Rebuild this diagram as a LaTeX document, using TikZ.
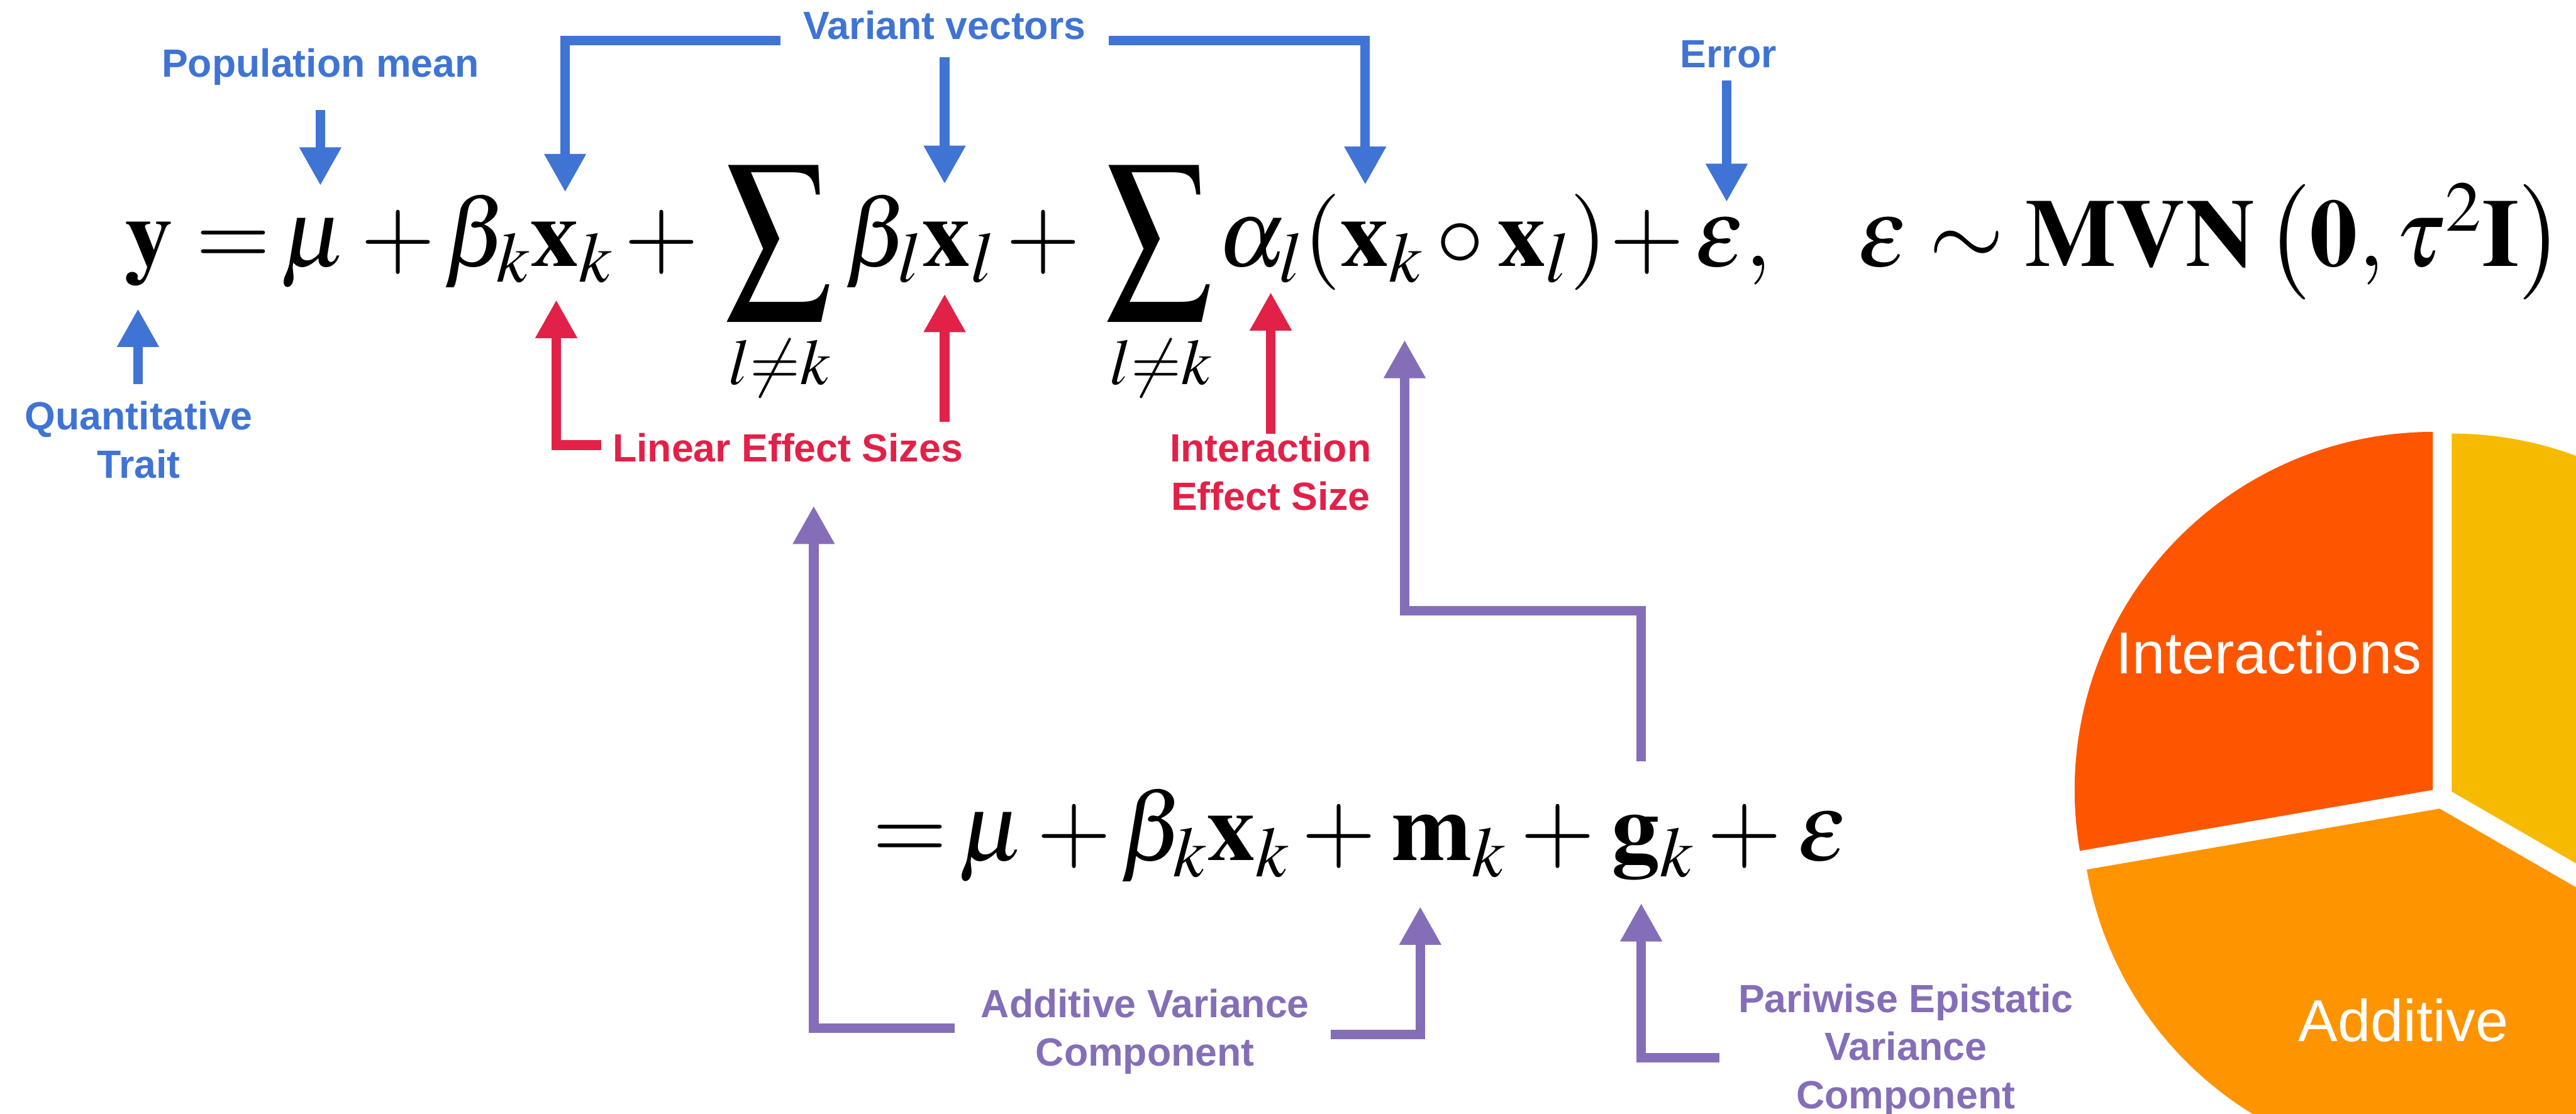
\documentclass[tikz,border=0pt]{standalone}
\usepackage{mathptmx}
\usepackage[no-math]{fontspec}
\setmainfont{Liberation Serif}
\newfontfamily\labfont{Liberation Sans}
\usetikzlibrary{arrows.meta}
\definecolor{cb}{RGB}{63,116,212}
\definecolor{cr}{RGB}{226,33,72}
\definecolor{cp}{RGB}{133,110,184}
\definecolor{pieR}{RGB}{254,86,0}
\definecolor{pieO}{RGB}{254,148,0}
\definecolor{pieY}{RGB}{246,187,0}
\newcommand\eqf{\fontsize{44}{52}\selectfont}
\newcommand\bigsum{\scalebox{0.84}[1]{$\displaystyle\sum$}}
\tikzset{
  eqs/.style={anchor=base, inner sep=0pt, font=\eqf},
  sigma/.style={anchor=center, inner sep=0pt, font=\fontsize{57}{64}\selectfont},
  limit/.style={anchor=base, inner sep=0pt, font=\fontsize{40}{48}\selectfont},
  lab/.style={anchor=base, inner sep=0pt, align=center, font=\fontsize{18}{22}\selectfont\labfont\bfseries},
  pielab/.style={anchor=base, inner sep=0pt, text=white, font=\fontsize{27}{32}\selectfont\labfont},
  arr/.style={line width=4.4pt, -{Triangle[width=18pt,length=17.5pt]}},
}
\begin{document}
\begin{tikzpicture}[x=0.264mm,y=-0.264mm]
\useasboundingbox (0,0) rectangle (1568,678);
\fill[white] (0,0) rectangle (1568,678);
\clip (0,0) rectangle (1568,678);

% ---------- pie ----------
\fill[pieR] (1480.8,481) -- ++(-90:218) arc[start angle=-90,end angle=-189.8,radius=218] -- cycle;
\fill[pieO] (1485,492.4) -- ++(-189.8:218) arc[start angle=-189.8,end angle=-330,radius=218] -- cycle;
\fill[pieY] (1492.3,482) -- ++(-330:218) arc[start angle=-330,end angle=-450,radius=218] -- cycle;
\node[pielab] (tint) at (1381,410) {Interactions};
\node[pielab] (tadd) at (1463,634) {Additive};

% ---------- equation 1 ----------
\node[eqs] (ey)   at (90.5,162)  {$\mathbf{y}$};
\node[eqs] (eeq)  at (142,162)   {$=$};
\node[eqs] (emu)  at (191,162)   {$\mu$};
\node[eqs] (ep1)  at (242.3,162) {$+$};
\node[eqs] (ebx)  at (321.5,162) {$\beta_k\mathbf{x}_k$};
\node[eqs] (ep2)  at (402.7,162) {$+$};
\node[sigma] (es1) at (474,147.5) {\bigsum};
\node[limit] (el1) at (474.5,234) {$\scriptstyle l\neq k$};
\node[eqs] (eblx) at (560,162)   {$\beta_l\mathbf{x}_l$};
\node[eqs] (ep3)  at (635,162)   {$+$};
\node[sigma] (es2) at (705.5,147.5) {\bigsum};
\node[limit] (el2) at (706.5,234) {$\scriptstyle l\neq k$};
\node[eqs] (eal)  at (860,162)   {$\alpha_l(\mathbf{x}_k\circ\mathbf{x}_l)$};
\node[eqs] (ep4)  at (1002.5,162){$+$};
\node[eqs] (eeps) at (1055,162)  {$\varepsilon,$};
\node[eqs] (emvn) at (1345.5,162){$\varepsilon\sim\mathbf{MVN}\,\bigl(\mathbf{0},\tau^2\mathbf{I}\bigr)$};

% ---------- equation 2 ----------
\node[eqs] (feq) at (553.8,524)  {$=$};
\node[eqs] (fmu) at (603.5,524)  {$\mu$};
\node[eqs] (fp1) at (654,524)    {$+$};
\node[eqs] (fbx) at (733.5,524)  {$\beta_k\mathbf{x}_k$};
\node[eqs] (fp2) at (815,524)    {$+$};
\node[eqs] (fm)  at (882,524)    {$\mathbf{m}_k$};
\node[eqs] (fp3) at (948.3,524)  {$+$};
\node[eqs] (fg)  at (1006,524)   {$\mathbf{g}_k$};
\node[eqs] (fp4) at (1062,524)   {$+$};
\node[eqs] (fe)  at (1109,524)   {$\varepsilon$};

% ---------- blue labels ----------
\node[lab,text=cb] (pop) at (195,47) {Population mean};
\coordinate (popA) at (195,67);   \coordinate (muT) at (195,113);
\draw[arr,cb] (popA) -- (muT);

\node[lab,text=cb] (qt) at (84.5,291) {Quantitative\\Trait};
\coordinate (qtA) at (84,234);    \coordinate (yT) at (84,188);
\draw[arr,cb] (qtA) -- (yT);

\node[lab,text=cb] (vv) at (575,24) {Variant vectors};
\coordinate (vvL) at (475,24.7);  \coordinate (vvLc) at (344,24.7); \coordinate (xkT) at (344,117);
\coordinate (vvM) at (575,35);    \coordinate (xlT) at (575,112);
\coordinate (vvR) at (675,24.7);  \coordinate (vvRc) at (831,24.7); \coordinate (xxT) at (831,112.5);
\draw[arr,cb] (vvL) -- (vvLc) -- (xkT);
\draw[arr,cb] (vvM) -- (xlT);
\draw[arr,cb] (vvR) -- (vvRc) -- (xxT);

\node[lab,text=cb] (err) at (1052,41) {Error};
\coordinate (errA) at (1051,49);  \coordinate (epsT) at (1051,123);
\draw[arr,cb] (errA) -- (epsT);

% ---------- red labels ----------
\node[lab,text=cr] (les) at (479.5,281) {Linear Effect Sizes};
\coordinate (lesL) at (366,271);  \coordinate (lesLc) at (338.6,271); \coordinate (bkT) at (338.6,182.6);
\coordinate (lesR) at (575,257);  \coordinate (blT) at (575,179);
\draw[arr,cr] (lesL) -- (lesLc) -- (bkT);
\draw[arr,cr] (lesR) -- (blT);

\node[lab,text=cr] (ies) at (773.4,310.5) {Interaction\\Effect Size};
\coordinate (iesA) at (773.5,264); \coordinate (alT) at (773.5,178);
\draw[arr,cr] (iesA) -- (alT);

% ---------- purple labels ----------
\node[lab,text=cp] (avc) at (697,649) {Additive Variance\\Component};
\coordinate (avL) at (581,626);   \coordinate (avLc) at (495.3,626); \coordinate (sumT) at (495.3,308);
\coordinate (avR) at (810,630);   \coordinate (avRc) at (864.5,630); \coordinate (mT) at (864.5,552);
\draw[arr,cp] (avL) -- (avLc) -- (sumT);
\draw[arr,cp] (avR) -- (avRc) -- (mT);

\coordinate (gA) at (999,463.6);  \coordinate (gc1) at (999,372); \coordinate (gc2) at (855,372); \coordinate (intT) at (855,207);
\draw[arr,cp] (gA) -- (gc1) -- (gc2) -- (intT);

\node[lab,text=cp] (pev) at (1160,675) {Pariwise Epistatic\\Variance\\Component};
\coordinate (pevA) at (1046.5,644); \coordinate (pevc) at (999,644); \coordinate (gT) at (999,550);
\draw[arr,cp] (pevA) -- (pevc) -- (gT);
\end{tikzpicture}
\end{document}
